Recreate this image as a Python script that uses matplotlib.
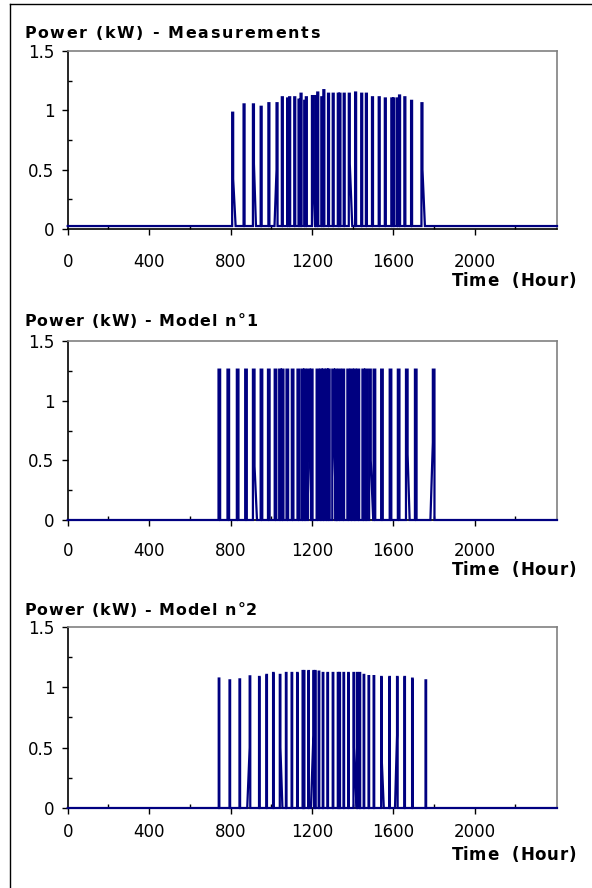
import matplotlib
matplotlib.use("Agg")
import matplotlib.pyplot as plt
from matplotlib.lines import Line2D
from matplotlib.ticker import FuncFormatter
from matplotlib.font_manager import FontProperties
from matplotlib.textpath import TextToPath

W, H = 592, 888
NAVY = "#000080"
X_END = 2404

# measured power (kW), spike start hour and peak value
meas_hours = [808, 864, 910, 948, 986, 1026, 1052, 1078, 1088, 1113, 1134, 1144,
              1162, 1170, 1200, 1216, 1226, 1246, 1256, 1279, 1302, 1327, 1335,
              1356, 1381, 1412, 1442, 1465, 1495, 1528, 1558, 1590, 1600, 1618,
              1628, 1654, 1687, 1738]
meas_peaks = [0.98, 1.05, 1.05, 1.03, 1.06, 1.06, 1.11, 1.10, 1.11, 1.11, 1.09, 1.14,
              1.08, 1.11, 1.12, 1.12, 1.15, 1.11, 1.17, 1.14, 1.14, 1.14, 1.14,
              1.14, 1.14, 1.15, 1.14, 1.14, 1.11, 1.11, 1.10, 1.10, 1.10, 1.10,
              1.125, 1.11, 1.08, 1.06]
meas_base = 0.025
# spikes with a sloped edge: index, level, hours (negative = before the rise)
meas_ramp_idx = [0, 2, 5, 14, 24, 37]
meas_ramp_lvl = [0.42, 0.55, 0.50, 0.50, 0.55, 0.50]
meas_ramp_len = [12, 10, -10, 10, 12, 12]

# model n°1
m1_hours = [741, 785, 831, 872, 910, 948, 984, 1017, 1039, 1052, 1075, 1101, 1129,
            1149, 1162, 1180, 1195, 1223, 1240, 1253, 1269, 1279, 1300, 1314, 1332,
            1350, 1374, 1391, 1407, 1424, 1448, 1462, 1481, 1503, 1540, 1582, 1622,
            1662, 1706, 1794]
m1_peaks = [1.26] * len(m1_hours)
m1_base = 0.0
m1_ramp_idx = [4, 15, 22, 32, 37, 39]
m1_ramp_lvl = [0.45, 0.65, 0.70, 0.50, 0.55, 0.65]
m1_ramp_len = [12, 12, 12, 12, 10, -12]

# model n°2
m2_hours = [742, 795, 844, 894, 940, 976, 1009, 1042, 1072, 1100, 1127, 1154, 1160,
            1182, 1207, 1215, 1233, 1253, 1276, 1302, 1327, 1335, 1355, 1378, 1404,
            1421, 1434, 1454, 1478, 1503, 1540, 1580, 1618, 1654, 1692, 1758]
m2_peaks = [1.07, 1.055, 1.063, 1.088, 1.083, 1.10, 1.116, 1.10, 1.116, 1.116, 1.116,
            1.132, 1.132, 1.132, 1.132, 1.132, 1.127, 1.116, 1.116, 1.116, 1.116,
            1.116, 1.116, 1.116, 1.116, 1.116, 1.116, 1.10, 1.09, 1.09, 1.083, 1.083,
            1.083, 1.083, 1.069, 1.055]
m2_base = 0.0
m2_ramp_idx = [3, 7, 14, 24, 30, 32]
m2_ramp_lvl = [0.50, 0.50, 0.60, 0.50, 0.40, 0.60]
m2_ramp_len = [-12, 10, -12, 12, 10, -10]

titles = ["Power (kW) - Measurements", "Power (kW) - Model n°1", "Power (kW) - Model n°2"]
x_ticks = [0, 400, 800, 1200, 1600, 2000]
y_ticks = [0, 0.5, 1, 1.5]


def spike_series(hours, peaks, width, base, r_idx, r_lvl, r_len):
    ramps = {i: (lv, ln) for i, lv, ln in zip(r_idx, r_lvl, r_len)}
    xs, ys = [0], [base]
    for i, (t, p) in enumerate(zip(hours, peaks)):
        lv, ln = ramps.get(i, (None, 0))
        if ln < 0:
            xs += [t + ln, t, t, t + width, t + width]
            ys += [base, lv, p, p, base]
        elif ln > 0:
            xs += [t, t, t + width, t + width, t + width + ln]
            ys += [base, p, p, lv, base]
        else:
            xs += [t, t, t + width, t + width]
            ys += [base, p, p, base]
    xs.append(X_END)
    ys.append(base)
    return xs, ys


_t2p = TextToPath()


def spaced_text(fig, x, y, s, size, spacing, ha="left"):
    # Excel-like letter spacing, x / y in pixels from the top left corner
    fp = FontProperties(family="DejaVu Sans", weight="bold", size=size)
    ref = _t2p.get_text_width_height_descent("aa", fp, ismath=False)[0]
    widths = []
    for ch in s:
        w = _t2p.get_text_width_height_descent("a" + ch + "a", fp, ismath=False)[0] - ref
        widths.append(w * 100 / 72)
    total = sum(widths) + spacing * (len(s) - 1)
    cur = x - total if ha == "right" else x
    for ch, w in zip(s, widths):
        fig.text(cur / W, 1 - y / H, ch, fontproperties=fp, ha="left", va="baseline")
        cur += w + spacing


fig = plt.figure(figsize=(W / 100, H / 100), dpi=100)

# top, bottom (px), series, x tick pad, title baseline, title spacing, x label baseline
panels = [
    (51, 229, spike_series(meas_hours, meas_peaks, 5, meas_base,
                           meas_ramp_idx, meas_ramp_lvl, meas_ramp_len),
     12.5, 37.5, 1.8, 286),
    (341, 520, spike_series(m1_hours, m1_peaks, 8, m1_base,
                            m1_ramp_idx, m1_ramp_lvl, m1_ramp_len),
     11, 325.5, 1.1, 575),
    (626.5, 808, spike_series(m2_hours, m2_peaks, 3, m2_base,
                              m2_ramp_idx, m2_ramp_lvl, m2_ramp_len),
     6.5, 615, 1.1, 860),
]

left, right = 67.7, 557
for (top, bottom, (xs, ys), xpad, title_y, t_sp, xlab_y), title in zip(panels, titles):
    ax = fig.add_axes([left / W, 1 - bottom / H, (right - left) / W, (bottom - top) / H])
    ax.plot(xs, ys, color=NAVY, lw=1.6, zorder=3, clip_on=False, solid_joinstyle="miter")
    ax.set_xlim(0, X_END)
    ax.set_ylim(0, 1.5)
    ax.set_xticks(x_ticks)
    ax.set_xticks([200, 600, 1000, 1400, 1800, 2200], minor=True)
    ax.set_yticks(y_ticks)
    ax.set_yticks([0.25, 0.75, 1.25], minor=True)
    ax.yaxis.set_major_formatter(FuncFormatter(lambda v, p: f"{v:g}"))
    ax.tick_params(which="major", direction="out", length=4.5, width=1, color="black",
                   labelsize=12, labelfontfamily="DejaVu Sans")
    ax.tick_params(which="minor", direction="in", length=3, width=1, color="black")
    ax.tick_params(axis="x", which="major", pad=xpad)
    ax.tick_params(axis="y", which="major", pad=5)
    for side in ["left", "bottom"]:
        ax.spines[side].set_color("black")
        ax.spines[side].set_linewidth(1.2)
    for side in ["top", "right"]:
        ax.spines[side].set_color("#808080")
        ax.spines[side].set_linewidth(1.2)
    spaced_text(fig, 24, title_y, title, 11.4, t_sp)
    spaced_text(fig, 576, xlab_y, "Time  (Hour)", 12, 0.7, ha="right")

# outer chart frame
fig.add_artist(Line2D([10 / W, 10 / W], [0, 1 - 4 / H], color="black", lw=1,
                      transform=fig.transFigure))
fig.add_artist(Line2D([10 / W, 1], [1 - 4 / H, 1 - 4 / H], color="black", lw=1,
                      transform=fig.transFigure))

fig.savefig("out.png", dpi=100)
